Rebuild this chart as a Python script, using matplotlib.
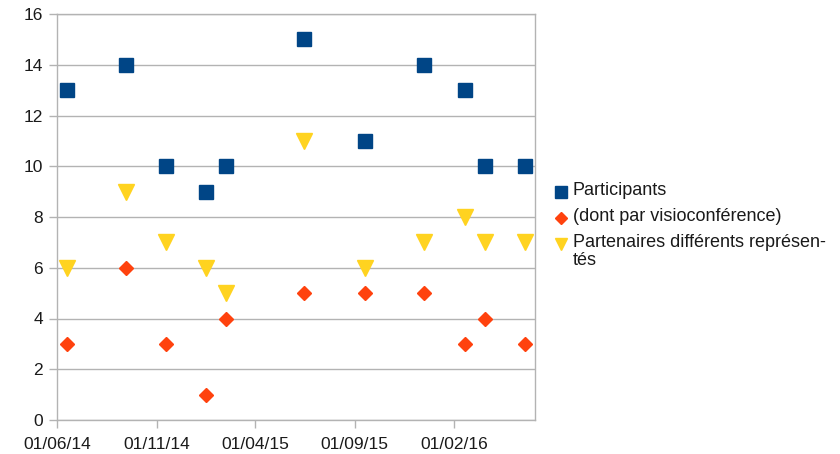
import matplotlib
matplotlib.use("Agg")
import matplotlib.pyplot as plt
from matplotlib.lines import Line2D
import numpy as np
import datetime as dt

dates = ["2014-06-16", "2014-09-15", "2014-11-16", "2015-01-16", "2015-02-16",
         "2015-06-16", "2015-09-17", "2015-12-17", "2016-02-17", "2016-03-19",
         "2016-05-20"]
participants = [13, 14, 10, 9, 10, 15, 11, 14, 13, 10, 10]
visio = [3, 6, 3, 1, 4, 5, 5, 5, 3, 4, 3]
partenaires = [6, 9, 7, 6, 5, 11, 6, 7, 8, 7, 7]
tick_dates = ["2014-06-01", "2014-11-01", "2015-04-01", "2015-09-01", "2016-02-01"]
tick_labels = ["01/06/14", "01/11/14", "01/04/15", "01/09/15", "01/02/16"]
labels = ["Participants", "(dont par visioconférence)", "Partenaires différents représen-\ntés"]

plt.rcParams['font.family'] = ['Liberation Sans', 'DejaVu Sans']

W, H = 840, 454
fig = plt.figure(figsize=(W / 100, H / 100), dpi=100)
ax = fig.add_axes([57 / W, 1 - 420 / H, (535 - 57) / W, (420 - 14) / H])

x = [dt.datetime.strptime(d, "%Y-%m-%d") for d in dates]
blue, red, yellow = "#004586", "#ff420e", "#ffd320"

ax.plot(x, participants, ls="none", marker="s", ms=10, color=blue, mec=blue, zorder=5)
ax.plot(x, visio, ls="none", marker="D", ms=6.8, color=red, mec=red, zorder=5)
ax.plot(x, partenaires, ls="none", marker="v", ms=11, color=yellow, mec=yellow, zorder=5)

ax.set_xlim(dt.datetime(2014, 6, 1), dt.datetime(2016, 6, 4))
ax.set_ylim(0, 16)
ax.set_yticks(np.arange(0, 17, 2))
ax.set_xticks([dt.datetime.strptime(d, "%Y-%m-%d") for d in tick_dates])
ax.set_xticklabels(tick_labels)

grid_c = "#b3b3b3"
ax.grid(True, axis="y", color=grid_c, lw=1)
ax.set_axisbelow(True)
for s in ax.spines.values():
    s.set_color(grid_c)
    s.set_linewidth(1)
ax.tick_params(axis="both", color=grid_c, length=6, width=1, labelsize=12.5,
               labelcolor="#1a1a1a")
ax.tick_params(axis="y", pad=4)
ax.tick_params(axis="x", pad=6)

# legend (manual, to match multi-line layout)
leg_y = [192, 218, 244]
mk = ["s", "D", "v"]
ms = [8, 6, 9]
cols = [blue, red, yellow]
for yy, m, s_, c, lab in zip(leg_y, mk, ms, cols, labels):
    fig.add_artist(Line2D([561 / W], [1 - yy / H], marker=m, ms=s_, color=c,
                          mec=c, ls="none", transform=fig.transFigure))
    fig.text(573 / W, 1 - (yy - 10) / H, lab, fontsize=13, color="#1a1a1a",
             va="top", ha="left", linespacing=1.05)

fig.savefig("out.png", dpi=100)
